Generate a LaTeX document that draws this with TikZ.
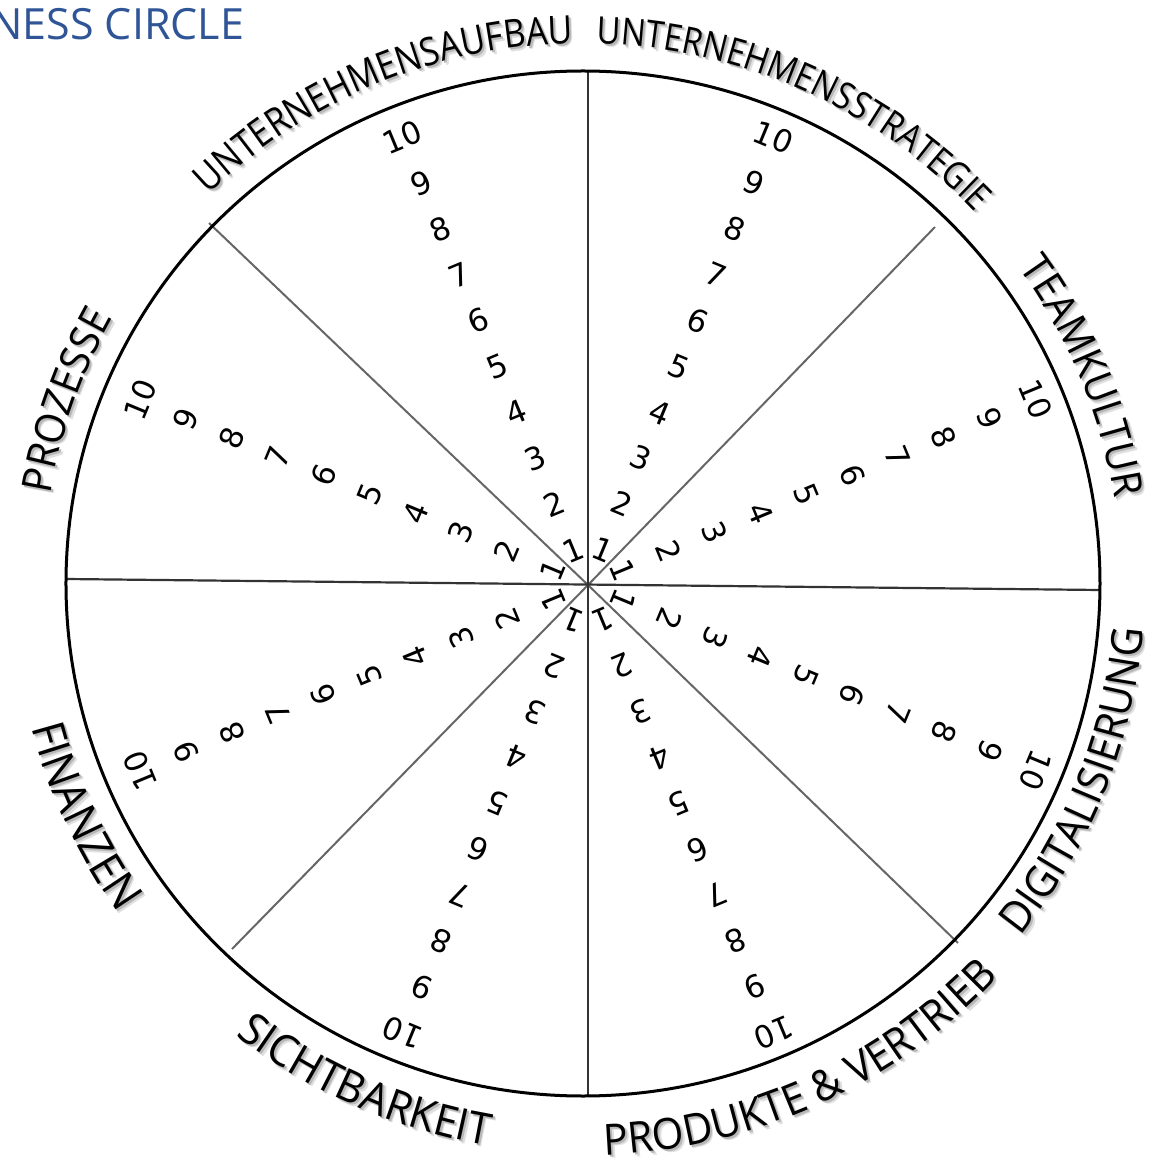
\documentclass[tikz,border=0pt]{standalone}
\usepackage{fontspec}
\setmainfont{Open Sans}
\newfontfamily\labelfont[FakeStretch=0.87]{Open Sans}
\newfontfamily\labelfontw[FakeStretch=0.95]{Open Sans}
\newfontfamily\numfont{DejaVu Sans}
\usetikzlibrary{decorations.text}
\definecolor{titleblue}{RGB}{47,85,151}
% #1 angle, #2 baseline radius, #3 font command, #4 size, #5 text
\newcommand\uplabel[5]{%
  \foreach \dx/\dy/\col in {3.5/-3.5/black!12, 2/-2/black!28, 0/0/black} {
    \path[shift={(-5+\dx,1.5+\dy)}, decorate, decoration={text along path, text align=center,
      text={|#3\fontsize{#4}{#4}\selectfont\color{\col}|#5}}]
      (#1+45:#2) arc[start angle=#1+45, end angle=#1-45, radius=#2];
  }%
}
\newcommand\lowlabel[5]{%
  \foreach \dx/\dy/\col in {3.5/-3.5/black!12, 2/-2/black!28, 0/0/black} {
    \path[shift={(-5+\dx,1.5+\dy)}, decorate, decoration={text along path, text align=center,
      text={|#3\fontsize{#4}{#4}\selectfont\color{\col}|#5}}]
      (#1-45:#2) arc[start angle=#1-45, end angle=#1+45, radius=#2];
  }%
}
\begin{document}
\begin{tikzpicture}[x=1pt,y=1pt,
  numlabel/.style={font=\numfont\fontsize{31}{31}\selectfont, inner sep=0pt},
  ringline/.style={line width=3pt, black},
  axisline/.style={line width=2.2pt, black!80},
  diagline/.style={line width=2pt, black!60},
  titlestyle/.style={anchor=base west, text=titleblue, font=\fontsize{43}{43}\selectfont, inner sep=0pt}
]
\useasboundingbox (-588,-577) rectangle (566,585);
% title
\node[titlestyle] (title) at (-598,545) {NESS CIRCLE};
% geometry
\coordinate (O) at (0,0);
\coordinate (C) at (-5,1.5);
\coordinate (top) at (0,514);
\coordinate (bot) at (0,-511);
\coordinate (lft) at (-522,6);
\coordinate (rgt) at (512,-5);
\coordinate (tl) at (-379,362);
\coordinate (tr) at (347,358);
\coordinate (bl) at (-356,-364);
\coordinate (br) at (370,-358);
\draw[diagline] (O) -- (tl);
\draw[diagline] (O) -- (tr);
\draw[diagline] (O) -- (bl);
\draw[diagline] (O) -- (br);
\draw[axisline] (top) -- (bot);
\draw[axisline] (lft) -- (rgt);
\draw[ringline] (C) ellipse [x radius=517, y radius=512.5];
% number scales
\foreach \a [count=\k] in {112.5,67.5,22.5,-22.5,-67.5,-112.5,-157.5,157.5} {
  \foreach \n in {1,...,10} {
    \pgfmathsetmacro\rr{38+(\n-1)*49.6}
    \node[numlabel, rotate=\a-90] (r\k-\n) at (\a:\rr) {\n};
  }
}
% curved labels
\uplabel{112.5}{540}{\labelfont}{39}{UNTERNEHMENSAUFBAU}
\uplabel{66}{540}{\labelfont}{37.5}{UNTERNEHMENSSTRATEGIE}
\uplabel{22.5}{538}{\labelfontw}{41.5}{TEAMKULTUR}
\uplabel{160.5}{540}{\labelfontw}{41.5}{PROZESSE}
\lowlabel{-21.8}{562}{\labelfontw}{43}{DIGITALISIERUNG}
\lowlabel{-65.6}{572}{\labelfontw}{43}{PRODUKTE {\&} VERTRIEB}
\lowlabel{-113.6}{570}{\labelfontw}{44}{SICHTBARKEIT}
\lowlabel{-155}{570}{\labelfontw}{45}{FINANZEN}
\end{tikzpicture}
\end{document}
